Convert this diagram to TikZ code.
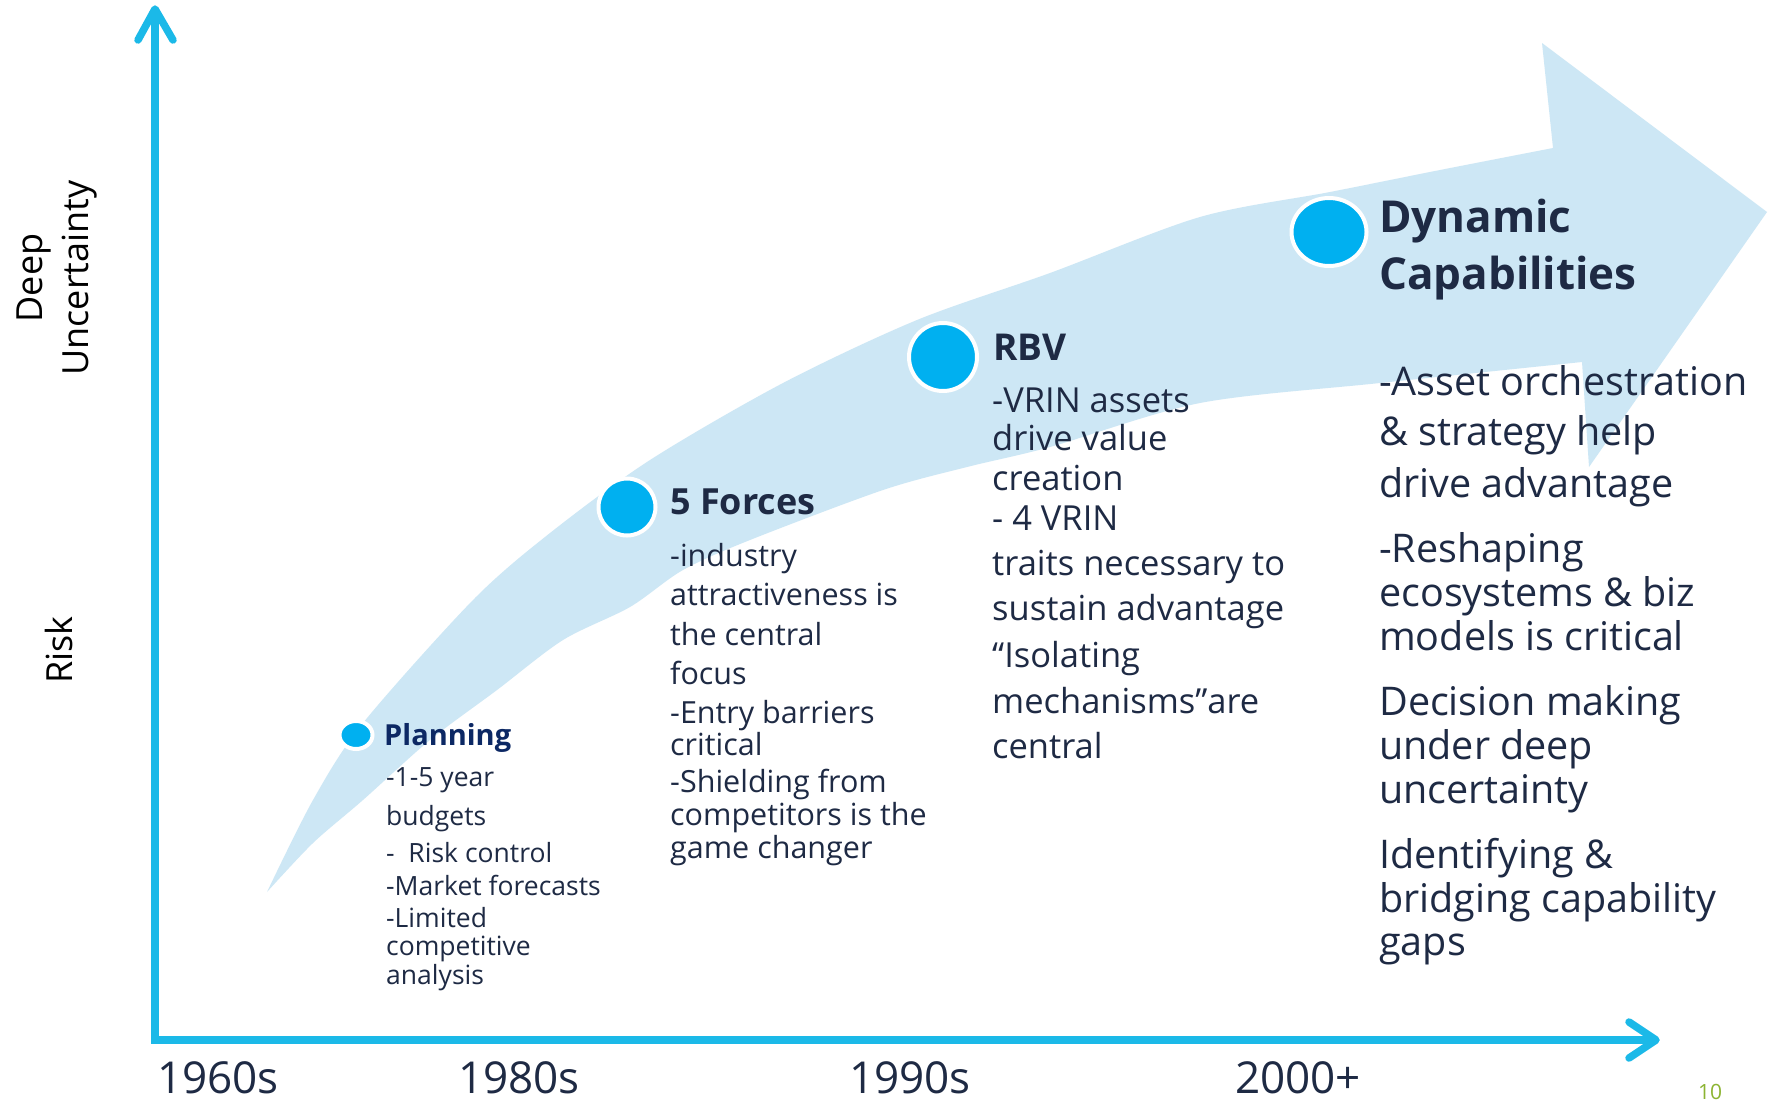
\documentclass[tikz,border=0pt]{standalone}
\usepackage{fontspec}
\setmainfont{Open Sans}
\usetikzlibrary{shapes.geometric}
\definecolor{axisblue}{RGB}{27,185,232}
\definecolor{arrowfill}{RGB}{205,231,245}
\definecolor{dotblue}{RGB}{0,176,240}
\definecolor{navy}{RGB}{30,42,68}
\definecolor{plannavy}{RGB}{12,40,100}
\definecolor{pagegreen}{RGB}{140,180,50}
\newcommand{\fsz}[1]{\fontsize{#1}{#1}\selectfont}
\tikzset{
  axisline/.style={draw=axisblue, line width=7.5pt},
  chevron/.style={draw=axisblue, line width=7.5pt, line cap=round, line join=round},
  dot/.style={ellipse, fill=dotblue, draw=white, line width=4pt, inner sep=0pt, outer sep=0pt},
  body/.style={anchor=base west, inner sep=0pt, text=navy},
  title/.style={anchor=base west, inner sep=0pt, text=navy, font=\bfseries},
  year/.style={anchor=base west, inner sep=0pt, text=navy, font=\fsz{44}},
  axislabel/.style={inner sep=0pt, text=black, rotate=90},
}
\begin{document}
\begin{tikzpicture}[x=1pt,y=-1pt]
\useasboundingbox (0,0) rectangle (1779,1101);
\fill[white] (0,0) rectangle (1779,1101);

% big light-blue arrow
\fill[arrowfill]
  plot[smooth, tension=0.5] coordinates {(267,892) (313,800) (363,723) (473,600) (550,533) (650,460) (783,383) (917,320) (1050,273) (1200,217) (1330,192) (1440,170) (1553,148)}
  -- (1542,43) -- (1767,212) -- (1589,467) -- (1582,362)
  -- plot[smooth, tension=0.5] coordinates {(1582,362) (1380,383) (1200,403) (1050,447) (967,467) (883,490) (750,540) (683,570) (630,607) (563,640) (497,690) (430,740) (363,800) (313,843) (267,892)}
  -- cycle;

% axes
\coordinate (O) at (155,1040);
\coordinate (Ytip) at (155,9);
\coordinate (Xtip) at (1656,1040);
\coordinate (Yl) at (138,40);
\coordinate (Yr) at (173,40);
\coordinate (Xu) at (1629,1022);
\coordinate (Xd) at (1629,1058);
\draw[axisline, line join=miter] (Ytip) -- (O) -- (Xtip);
\draw[chevron] (Yl) -- (Ytip) -- (Yr);
\draw[chevron] (Xu) -- (Xtip) -- (Xd);

% axis labels
\node[axislabel, align=center, font=\fontsize{36}{46}\selectfont] (deep) at (57,278) {Deep\\Uncertainty};
\node[axislabel, anchor=base, font=\fsz{36}] (risk) at (72,650) {Risk};

% years
\node[year] (y60) at (157,1093) {1960s};
\node[year] (y80) at (458,1093) {1980s};
\node[year] (y90) at (849,1093) {1990s};
\node[year] (y00) at (1235,1093) {2000+};
\node[anchor=base west, inner sep=0pt, text=pagegreen, font=\fsz{21}] (pg) at (1698,1099) {10};

% dots
\node[dot, minimum width=33pt, minimum height=28pt] (dplan) at (356,735) {};
\node[dot, minimum size=57pt, circle] (dfive) at (627,507) {};
\node[dot, minimum size=68pt, circle] (drbv) at (943,357) {};
\node[dot, minimum width=75pt, minimum height=68pt] (ddyn) at (1329,232) {};

% Planning
\node[title, text=plannavy, font=\bfseries\fsz{29}] (tplan) at (384,745) {Planning};
\foreach \yy/\lbl [count=\i] in {786/{-1-5 year}, 825/{budgets}, 862/{-\ \ Risk control}, 895/{-Market forecasts}, 927/{-Limited}, 955/{competitive}, 984/{analysis}}
  \node[body, font=\fsz{26.5}] (pl\i) at (386,\yy) {\lbl};

% 5 Forces
\node[title, font=\bfseries\fsz{36}] (tfive) at (670,514) {5 Forces};
\foreach \yy/\lbl [count=\i] in {566/{-industry}, 605/{attractiveness is}, 645/{the central}, 684/{focus}, 723/{-Entry barriers}, 755/{critical}, 792/{-Shielding from}, 825/{competitors is the}, 858/{game changer}}
  \node[body, font=\fsz{30.5}] (fl\i) at (670,\yy) {\lbl};

% RBV
\node[title, font=\bfseries\fsz{37}] (trbv) at (993,360) {RBV};
\foreach \yy/\lbl [count=\i] in {412/{-VRIN assets}, 450/{drive value}, 490/{creation}, 530/{- 4 VRIN}, 575/{traits necessary to}, 620/{sustain advantage}, 667/{“Isolating}, 713/{mechanisms”are}, 758/{central}}
  \node[body, font=\fsz{34.5}] (rl\i) at (992,\yy) {\lbl};

% Dynamic Capabilities
\node[title, font=\bfseries\fsz{44}] (tdyn1) at (1379,232) {Dynamic};
\node[title, font=\bfseries\fsz{44}] (tdyn2) at (1379,289) {Capabilities};
\foreach \yy/\lbl [count=\i] in {395/{-Asset orchestration}, 445/{\& strategy help}, 497/{drive advantage}, 562/{-Reshaping}, 606/{ecosystems \& biz}, 650/{models is critical}, 715/{Decision making}, 759/{under deep}, 803/{uncertainty}, 868/{Identifying \&}, 912/{bridging capability}, 955/{gaps}}
  \node[body, font=\fsz{39.5}] (dl\i) at (1379,\yy) {\lbl};
\end{tikzpicture}
\end{document}
